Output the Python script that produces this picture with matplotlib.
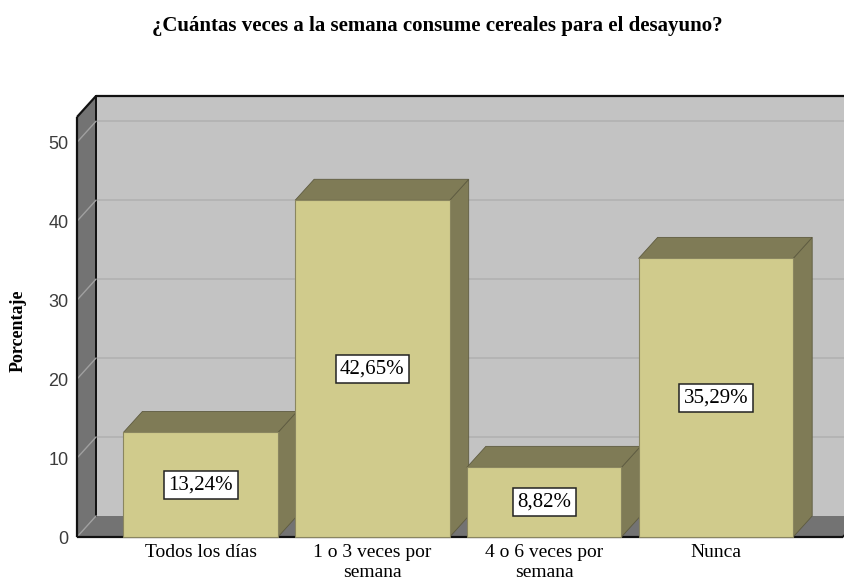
import matplotlib
matplotlib.use('Agg')
import matplotlib.pyplot as plt
from matplotlib.patches import Polygon, Rectangle

categories = ['Todos los días', '1 o 3 veces por\nsemana', '4 o 6 veces por\nsemana', 'Nunca']
percentages = [13.24, 42.65, 8.82, 35.29]
value_labels = ['13,24%', '42,65%', '8,82%', '35,29%']
yticks = [0, 10, 20, 30, 40, 50]

serif = 'Liberation Serif'
bar_face = '#d0cb8c'
bar_dark = '#7f7b56'
wall = '#737373'
back = '#c3c3c3'

fig = plt.figure(figsize=(8.45, 5.85), dpi=100)
W, H = 845, 585
left, right, bottom, top = 77, 843, 537, 117
ax = fig.add_axes([left / W, (H - bottom) / H, (right - left) / W, (bottom - top) / H])

xmin, xmax = -0.72, 3.74
ymin, ymax = 0, 53.2
ax.set_xlim(xmin, xmax)
ax.set_ylim(ymin, ymax)

# depth offset of the fake 3D, pixels -> data units
px_x = (right - left) / (xmax - xmin)
px_y = (bottom - top) / (ymax - ymin)
ddx = 19 / px_x
ddy = 21 / px_y

def poly(pts, **kw):
    ax.add_patch(Polygon(pts, closed=True, clip_on=False, **kw))

# back wall
ax.add_patch(Rectangle((xmin + ddx, ddy), (xmax - xmin) + 2, ymax, facecolor=back,
                       edgecolor='none', clip_on=False, zorder=0))
# left wall and floor
poly([(xmin, 0), (xmin, ymax), (xmin + ddx, ymax + ddy), (xmin + ddx, ddy)],
     facecolor=wall, edgecolor='none', zorder=1)
poly([(xmin, 0), (xmax, 0), (xmax + ddx, ddy), (xmin + ddx, ddy)],
     facecolor=wall, edgecolor='none', zorder=1)

# gridlines
for v in yticks:
    if v > 0:
        ax.plot([xmin + ddx, xmax + 2], [v + ddy, v + ddy], color='#b2b2b2', lw=1.2,
                clip_on=False, zorder=0.5)
    ax.plot([xmin, xmin + ddx], [v, v + ddy], color='#a0a0a0', lw=1, clip_on=False, zorder=2)

# frame edges
edge = dict(color='#111111', lw=1.6, clip_on=False, zorder=3, solid_capstyle='butt')
ax.plot([xmin, xmin], [0, ymax], **edge)
ax.plot([xmin, xmin + ddx], [ymax, ymax + ddy], **edge)
ax.plot([xmin + ddx, xmax + 2], [ymax + ddy, ymax + ddy], **edge)
ax.plot([xmin + ddx, xmin + ddx], [ddy, ymax + ddy], color='#111111', lw=1.4, clip_on=False, zorder=1.5)
ax.plot([xmin, xmax], [0, 0], **edge)
ax.plot([xmax, xmax + ddx], [0, ddy], **edge)

# bars
w = 0.9
for i, v in enumerate(percentages):
    x0, x1 = i - w / 2, i + w / 2
    poly([(x1, 0), (x1, v), (x1 + ddx, v + ddy), (x1 + ddx, ddy)],
         facecolor=bar_dark, edgecolor='#5e5b40', lw=0.6, zorder=4)
    poly([(x0, v), (x1, v), (x1 + ddx, v + ddy), (x0 + ddx, v + ddy)],
         facecolor=bar_dark, edgecolor='#5e5b40', lw=0.6, zorder=4)
    ax.add_patch(Rectangle((x0, 0), w, v, facecolor=bar_face, edgecolor='#8a8660',
                           lw=0.8, clip_on=False, zorder=5))
    ax.text(i, v / 2, value_labels[i], ha='center', va='center', fontsize=15,
            family=serif, zorder=6,
            bbox=dict(boxstyle='square,pad=0.22', facecolor='white', edgecolor='#222222', lw=1.1))

for s in ax.spines.values():
    s.set_visible(False)
ax.set_yticks(yticks)
ax.set_yticklabels([str(t) for t in yticks], family='Liberation Sans', fontsize=13, color='#3c3c3c')
ax.tick_params(axis='y', length=0, pad=6)
ax.set_xticks(range(len(categories)))
ax.set_xticklabels(categories, family=serif, fontsize=14, linespacing=1.2)
ax.tick_params(axis='x', length=0, pad=5)

fig.text(18 / W, (H - 331) / H, 'Porcentaje', rotation=90, ha='center', va='center',
         family=serif, fontweight='bold', fontsize=13)
fig.text(437 / W, (H - 26) / H, '¿Cuántas veces a la semana consume cereales para el desayuno?',
         ha='center', va='center', family=serif, fontweight='bold', fontsize=15)

fig.savefig('out.png', dpi=100)
